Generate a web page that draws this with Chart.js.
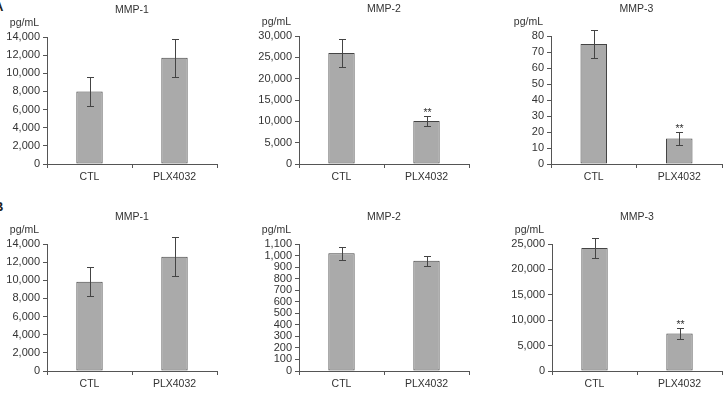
<!DOCTYPE html>
<html>
<head>
<meta charset="utf-8">
<script src="https://cdn.jsdelivr.net/npm/chart.js@4.4.1/dist/chart.umd.min.js"></script>
<style>
  body { margin: 0; background: #fff; }
  #wrap { position: relative; width: 723px; height: 393px; overflow: hidden; }
  canvas { position: absolute; }
  .tag { position: absolute; font: bold 13px "Liberation Sans", Arial, sans-serif; color: #222; }
</style>
</head>
<body>
<div id="wrap">
  <div class="tag" style="left:-6px;top:-1px">A</div>
  <div class="tag" style="left:-6px;top:199px">B</div>
</div>
<script>
// dados
const categories = ['CTL', 'PLX4032'];
const titles = ['MMP-1', 'MMP-2', 'MMP-3', 'MMP-1', 'MMP-2', 'MMP-3'];
const unitLabel = 'pg/mL';

// linha A
const meanA1 = [8000, 11700];
const errA1 = [1600, 2100];
const starsA1 = ['', ''];
const meanA2 = [26000, 10100];
const errA2 = [3300, 1100];
const starsA2 = ['', '**'];
const meanA3 = [75, 16];
const errA3 = [9, 4];
const starsA3 = ['', '**'];

// linha B
const meanB1 = [9850, 12600];
const errB1 = [1560, 2150];
const starsB1 = ['', ''];
const meanB2 = [1020, 955];
const errB2 = [58, 45];
const starsB2 = ['', ''];
const meanB3 = [24200, 7400];
const errB3 = [1900, 1050];
const starsB3 = ['', '**'];

// eixos y (max e passo)
const yMax = [14000, 30000, 80, 14000, 1100, 25000];
const yStep = [2000, 5000, 10, 2000, 100, 5000];

const means = [meanA1, meanA2, meanA3, meanB1, meanB2, meanB3];
const errs = [errA1, errA2, errA3, errB1, errB2, errB3];
const stars = [starsA1, starsA2, starsA3, starsB1, starsB2, starsB3];

// posicao de cada painel no quadro
const boxes = [
  { left: 0,   top: 0,   w: 240, h: 195, yW: 47, padR: 23, padT: 37, xH: 31 },
  { left: 240, top: 0,   w: 240, h: 195, yW: 59, padR: 11, padT: 36, xH: 31 },
  { left: 480, top: 0,   w: 243, h: 195, yW: 71, padR: 1,  padT: 36, xH: 31 },
  { left: 0,   top: 195, w: 240, h: 198, yW: 47, padR: 23, padT: 49, xH: 22 },
  { left: 240, top: 195, w: 240, h: 198, yW: 59, padR: 11, padT: 49, xH: 22 },
  { left: 480, top: 195, w: 243, h: 198, yW: 72, padR: 1,  padT: 49, xH: 22 }
];

const fonte = '"Liberation Sans", Arial, sans-serif';
const wrap = document.getElementById('wrap');

function criarPainel(i) {
  const box = boxes[i];
  const canvas = document.createElement('canvas');
  canvas.width = box.w;
  canvas.height = box.h;
  canvas.style.left = box.left + 'px';
  canvas.style.top = box.top + 'px';
  wrap.appendChild(canvas);

  // barras de erro, titulo, unidade e asteriscos
  const extras = {
    id: 'extras' + i,
    afterDatasetsDraw(chart) {
      const ctx = chart.ctx;
      const y = chart.scales.y;
      const ca = chart.chartArea;
      const meta = chart.getDatasetMeta(0);
      ctx.save();
      ctx.strokeStyle = '#444';
      ctx.lineWidth = 1;
      meta.data.forEach((bar, j) => {
        const x = Math.round(bar.x) + 0.5;
        const yTop = Math.round(y.getPixelForValue(means[i][j] + errs[i][j])) + 0.5;
        const yBot = Math.round(y.getPixelForValue(means[i][j] - errs[i][j])) + 0.5;
        ctx.beginPath();
        ctx.moveTo(x, yTop); ctx.lineTo(x, yBot);
        ctx.moveTo(x - 3.5, yTop); ctx.lineTo(x + 3.5, yTop);
        ctx.moveTo(x - 3.5, yBot); ctx.lineTo(x + 3.5, yBot);
        ctx.stroke();
        if (stars[i][j]) {
          ctx.fillStyle = '#333';
          ctx.font = '10.5px ' + fonte;
          ctx.textAlign = 'center';
          ctx.textBaseline = 'alphabetic';
          ctx.fillText(stars[i][j], x, yTop - 1);
        }
      });
      ctx.fillStyle = '#333';
      ctx.font = '10.5px ' + fonte;
      ctx.textBaseline = 'middle';
      ctx.textAlign = 'center';
      ctx.fillText(titles[i], (ca.left + ca.right) / 2, ca.top - 27);
      ctx.textAlign = 'right';
      ctx.fillText(unitLabel, ca.left - 8, ca.top - 14);
      ctx.restore();
    }
  };

  new Chart(canvas, {
    type: 'bar',
    data: {
      labels: categories,
      datasets: [{
        data: means[i],
        backgroundColor: '#aaaaaa',
        borderColor: '#444',
        borderWidth: 1,
        borderSkipped: false,
        categoryPercentage: 1,
        barPercentage: 0.31
      }]
    },
    options: {
      responsive: false,
      animation: false,
      layout: { padding: { left: 0, right: box.padR, top: box.padT, bottom: 0 } },
      plugins: { legend: { display: false }, tooltip: { enabled: false } },
      scales: {
        x: {
          grid: { drawOnChartArea: false, drawTicks: true, tickLength: 4, color: '#555', offset: true },
          border: { color: '#555' },
          ticks: { color: '#333', font: { family: fonte, size: 10.5 }, padding: 3 },
          afterFit: s => { s.height = box.xH; }
        },
        y: {
          min: 0,
          max: yMax[i],
          grid: { drawOnChartArea: false, drawTicks: true, tickLength: 4, color: '#555' },
          border: { color: '#555' },
          ticks: {
            stepSize: yStep[i],
            autoSkip: false,
            color: '#333',
            font: { family: fonte, size: 11 },
            padding: 3,
            callback: v => v.toLocaleString('en-US')
          },
          afterFit: s => { s.width = box.yW; }
        }
      }
    },
    plugins: [extras]
  });
}

for (let i = 0; i < 6; i++) criarPainel(i);
</script>
</body>
</html>
